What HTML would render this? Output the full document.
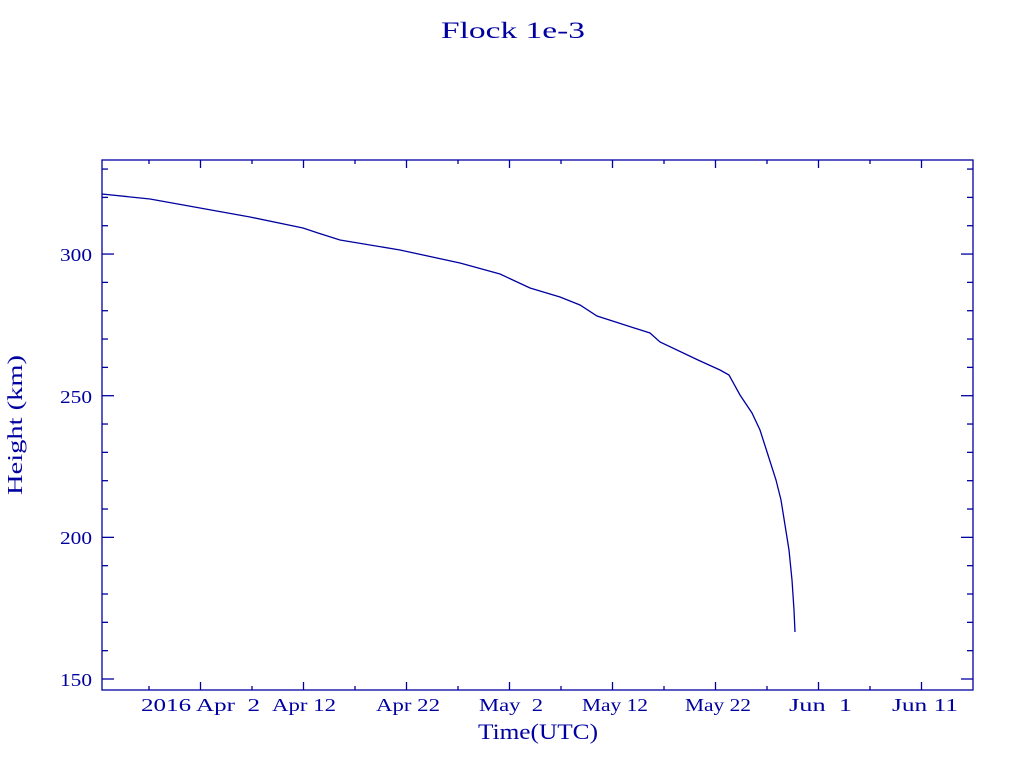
<!DOCTYPE html>
<html><head><meta charset="utf-8"><style>
body{margin:0;background:#fff;width:1024px;height:768px;overflow:hidden}
text{font-family:"Liberation Serif",serif;fill:#0000a0}
</style></head><body>
<svg id="s" width="1024" height="768" xmlns="http://www.w3.org/2000/svg">
<text x="441" y="38" font-size="23" textLength="144" lengthAdjust="spacingAndGlyphs">Flock 1e-3</text>
<rect x="102" y="160" width="871" height="530" fill="none" stroke="#0000a0" stroke-width="1.3"/>
<g id="t" stroke="#0000a0" stroke-width="1.3"></g>
<g font-size="18">
<text x="60" y="261" textLength="32" lengthAdjust="spacingAndGlyphs">300</text>
<text x="60" y="403" textLength="32" lengthAdjust="spacingAndGlyphs">250</text>
<text x="60" y="544" textLength="32" lengthAdjust="spacingAndGlyphs">200</text>
<text x="60" y="686" textLength="32" lengthAdjust="spacingAndGlyphs">150</text>
</g>
<g font-size="18" lengthAdjust="spacingAndGlyphs">
<text x="141" y="711" textLength="119" lengthAdjust="spacingAndGlyphs" xml:space="preserve">2016 Apr  2</text>
<text x="272" y="711" textLength="64" lengthAdjust="spacingAndGlyphs">Apr 12</text>
<text x="376" y="711" textLength="64" lengthAdjust="spacingAndGlyphs">Apr 22</text>
<text x="479" y="711" textLength="64" lengthAdjust="spacingAndGlyphs" xml:space="preserve">May  2</text>
<text x="582" y="711" textLength="66" lengthAdjust="spacingAndGlyphs">May 12</text>
<text x="685" y="711" textLength="66" lengthAdjust="spacingAndGlyphs">May 22</text>
<text x="789" y="711" textLength="63" lengthAdjust="spacingAndGlyphs" xml:space="preserve">Jun  1</text>
<text x="892" y="711" textLength="66" lengthAdjust="spacingAndGlyphs">Jun 11</text>
</g>
<text x="478" y="739" font-size="22" textLength="120" lengthAdjust="spacingAndGlyphs">Time(UTC)</text>
<text transform="translate(22,495) rotate(-90)" font-size="21" textLength="140" lengthAdjust="spacingAndGlyphs">Height (km)</text>
<polyline fill="none" stroke="#0000a0" stroke-width="1.3" points="102,194 150,199 200,208 250,217 303,228 318,233 340,240 400,250 460,263 500,274 530,288 560,297 580,305 597,316 650,333 660,342 698,360 720,370 729,375 740,395 752,413 760,430 768,455 776,480 781,500 785,525 789,550 792,580 794,610 795,632"/>
</svg>
<script>
var g=document.getElementById('t'),h='';
for(var i=0;i<16;i++){var x=149+51.5*i,L=(i%2==1)?8:4;h+='<line x1="'+x+'" y1="690" x2="'+x+'" y2="'+(690-L)+'"/><line x1="'+x+'" y1="160" x2="'+x+'" y2="'+(160+L)+'"/>';}
for(var j=0;j<19;j++){var y=679-28.33*j,L=(j%5==0)?12:6;h+='<line x1="102" y1="'+y+'" x2="'+(102+L)+'" y2="'+y+'"/><line x1="973" y1="'+y+'" x2="'+(973-L)+'" y2="'+y+'"/>';}
g.innerHTML=h;
</script>
</body></html>
